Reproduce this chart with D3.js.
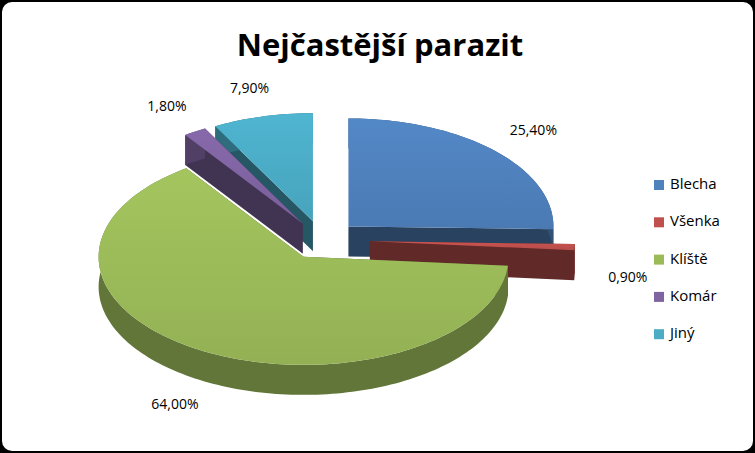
<!DOCTYPE html>
<html><head><meta charset="utf-8">
<script src="https://cdn.jsdelivr.net/npm/d3@7"></script>
<style>body{margin:0;background:#000}svg{display:block}</style>
</head><body><svg id="c" width="755" height="453"></svg>
<script>
const categories = ["Blecha","Všenka","Klíště","Komár","Jiný"];
const values = [25.4, 0.9, 64.0, 1.8, 7.9];
const labels = ["25,40%","0,90%","64,00%","1,80%","7,90%"];
const colors = ["#4F81BD","#C0504D","#9BBB59","#8064A2","#4BACC6"];
const title = "Nejčastější parazit";

const svg = d3.select("#c");
svg.append("rect").attr("x",2).attr("y",2).attr("width",751).attr("height",449).attr("rx",10).attr("fill","#fff");
svg.append("text").attr("x",380).attr("y",56).attr("text-anchor","middle")
  .attr("font-family","Open Sans, sans-serif").attr("font-weight","bold").attr("font-size",31).text(title);

const cx=322, cy=240, rx=205, ry=108, depth=30, explode=0.18;
const pie = d3.pie().sort(null).value(d=>d)(values);
const pt=(a,r,ox,oy,dy=0)=>[ox+Math.sin(a)*rx*r, oy-Math.cos(a)*ry*r+dy];
const shade=(c,k)=>d3.color(c).darker(k).formatHex();

const slices = pie.map((p,i)=>{
  const mid=(p.startAngle+p.endAngle)/2;
  const e = i==1 ? explode*1.3 : explode;
  const ox=cx+Math.sin(mid)*rx*e, oy=cy-Math.cos(mid)*ry*e;
  return {p,i,mid,ox,oy};
});
const defs=svg.append("defs");
colors.forEach((c,i)=>{
  const g=defs.append("linearGradient").attr("id","g"+i).attr("x1",0).attr("y1",0).attr("x2",0).attr("y2",1);
  g.append("stop").attr("offset",0).attr("stop-color",d3.color(c).brighter(0.15));
  g.append("stop").attr("offset",1).attr("stop-color",d3.color(c).darker(0.15));
});
const order=[...slices].sort((a,b)=>(-Math.cos(a.mid))-(-Math.cos(b.mid)));
const line=d3.line();
order.forEach(s=>{
  const {p,i,ox,oy}=s; const c=colors[i];
  const n=Math.max(4,Math.ceil((p.endAngle-p.startAngle)*40));
  const arcTop=d3.range(n+1).map(k=>pt(p.startAngle+(p.endAngle-p.startAngle)*k/n,1,ox,oy));
  const arcBot=arcTop.map(q=>[q[0],q[1]+depth]);
  const g=svg.append("g");
  [p.startAngle,p.endAngle].forEach(a=>{
    const e=pt(a,1,ox,oy);
    g.append("path").attr("d",line([[ox,oy],e,[e[0],e[1]+depth],[ox,oy+depth]])+"Z").attr("fill",shade(c,1.9));
  });
  g.append("path").attr("d",line(arcTop.concat(arcBot.reverse()))+"Z").attr("fill",shade(c,1.3));
  g.append("path").attr("d",line([[ox,oy]].concat(arcTop))+"Z").attr("fill",`url(#g${i})`);
});

slices.forEach(s=>{
  const q=pt(s.mid,1.26,s.ox,s.oy);
  svg.append("text").attr("x",q[0]).attr("y",q[1]+(Math.cos(s.mid)<0?depth:0)).attr("text-anchor","middle")
   .attr("dominant-baseline","middle").attr("font-family","Open Sans, sans-serif").attr("font-size",14).text(labels[s.i]);
});

const leg=svg.append("g").attr("font-family","Open Sans, sans-serif").attr("font-size",15);
categories.forEach((c,i)=>{
  const y=185+i*37.3;
  leg.append("rect").attr("x",654).attr("y",y-5).attr("width",10).attr("height",10).attr("fill",colors[i]);
  leg.append("text").attr("x",670).attr("y",y).attr("dominant-baseline","middle").text(c);
});
</script></body></html>
